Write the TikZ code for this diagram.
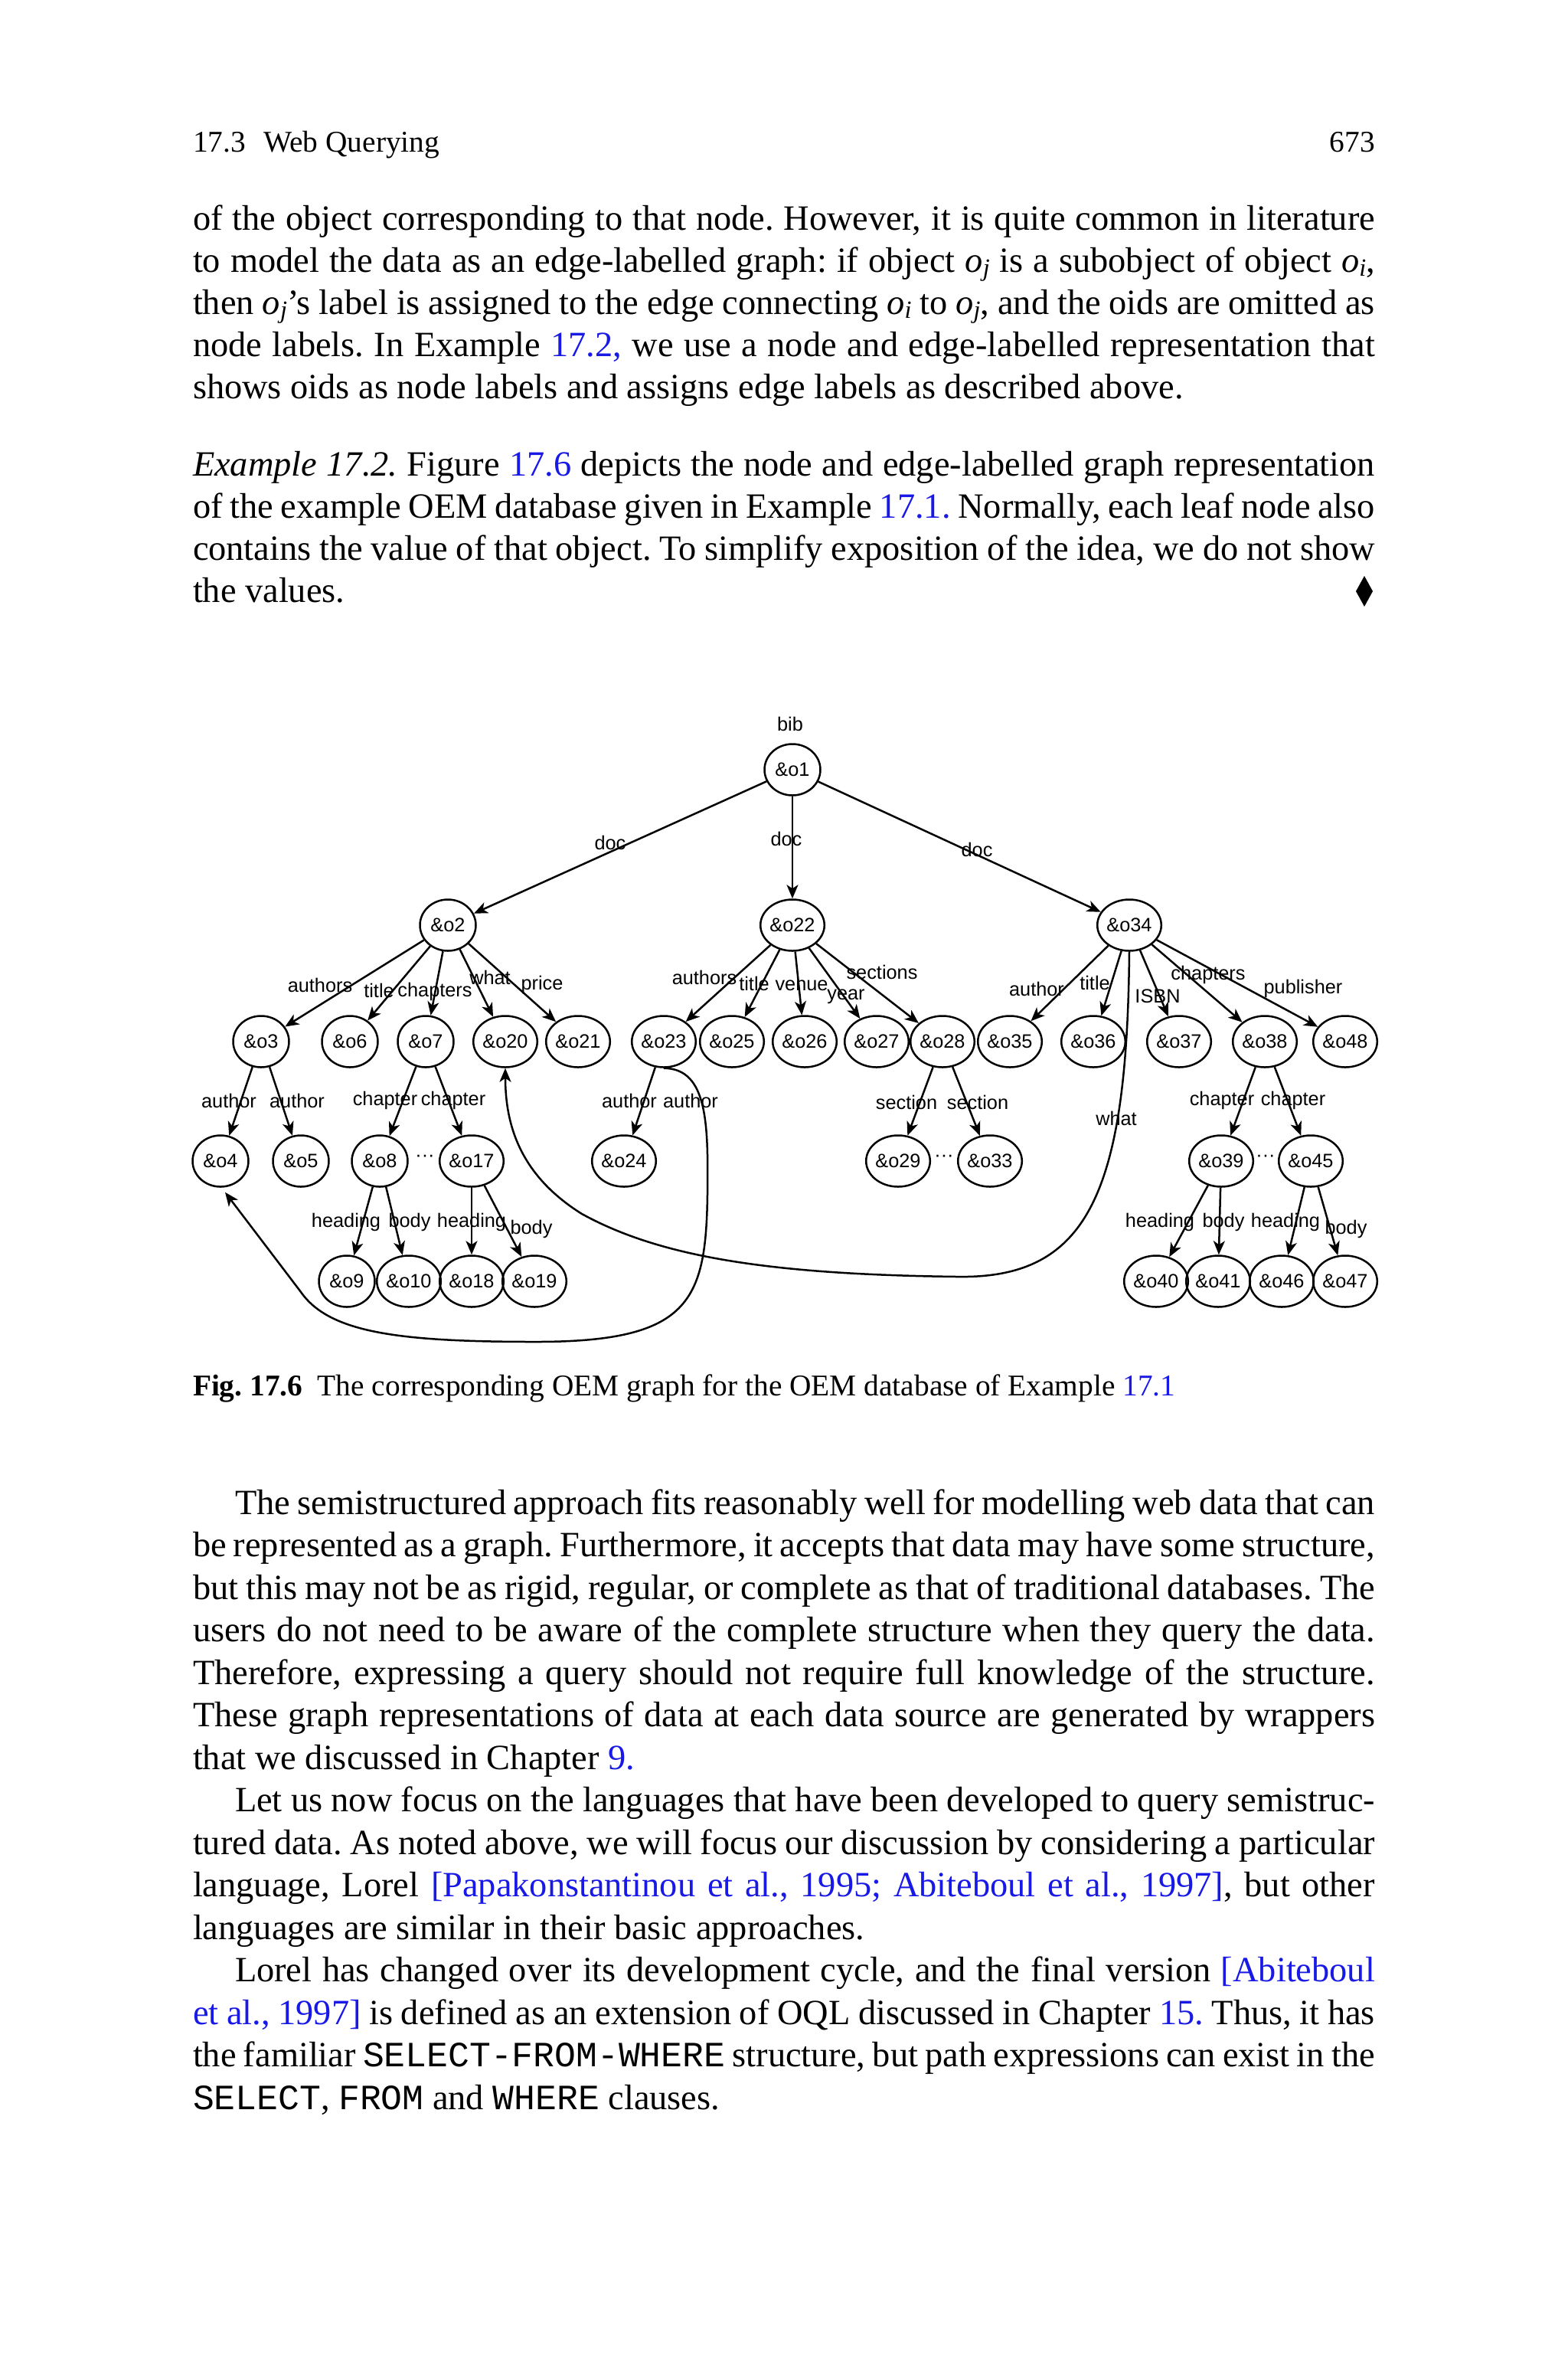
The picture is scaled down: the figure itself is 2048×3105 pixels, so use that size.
\documentclass[tikz,border=0pt]{standalone}
\usepackage{fontspec}
\setmainfont{Liberation Serif}
\setmonofont{Liberation Mono}
\newfontfamily\diagfont{Liberation Sans}
\usetikzlibrary{shapes.geometric,arrows.meta}
\definecolor{linkblue}{RGB}{25,25,230}
\newcommand\lnk[1]{\textcolor{linkblue}{#1}}
\newcommand\mysb[1]{\raisebox{-0.28ex}{\fontsize{9.2}{10}\selectfont\textit{#1}}}
\newcommand\myoj{\textit{o}\mysb{j}}
\newcommand\myoi{\textit{o}\mysb{i}}
\newcommand\myFJ[1]{\makebox[154.4mm][s]{#1}}
\newcommand\myIJ[1]{\makebox[148.9mm][s]{#1}}
\frenchspacing
\begin{document}
\begin{tikzpicture}[x=0.1mm,y=-0.1mm,
  body/.style={anchor=base west,inner sep=0,outer sep=0,font=\fontsize{13.2}{15.8}\selectfont},
  small/.style={anchor=base west,inner sep=0,outer sep=0,font=\fontsize{11.2}{13}\selectfont},
  obj/.style={draw,ellipse,line width=0.25mm,minimum width=7.3mm,minimum height=6.7mm,inner sep=0,font=\diagfont\fontsize{7.2}{8.6}\selectfont},
  lbl/.style={inner sep=0,font=\diagfont\fontsize{7.2}{8.6}\selectfont},
  edge/.style={line width=0.25mm,-{Stealth[length=1.8mm,width=1.5mm,inset=0.5mm]}}]
\useasboundingbox (0,0) rectangle (2048,3105);
\fill[white] (0,0) rectangle (2048,3105);

% ---------- header ----------
\node[small] (hd) at (252,198) {17.3\hspace{0.6em}Web Querying};
\node[small,anchor=base east] (pg) at (1796,198) {673};

% ---------- paragraph 1 ----------
\node[body] (a1) at (252,300) {\myFJ{of the object corresponding to that node. However, it is quite common in literature}};
\node[body] (a2) at (252,355) {\myFJ{to model the data as an edge-labelled graph: if object \myoj{} is a subobject of object \myoi,}};
\node[body] (a3) at (252,410) {\myFJ{then \myoj’s label is assigned to the edge connecting \myoi{} to \myoj, and the oids are omitted as}};
\node[body] (a4) at (252,465) {\myFJ{node labels. In Example \lnk{17.2,} we use a node and edge-labelled representation that}};
\node[body] (a5) at (252,520) {shows oids as node labels and assigns edge labels as described above.};

% ---------- example ----------
\node[body] (b1) at (252,621) {\myFJ{\textit{Example 17.2.} Figure \lnk{17.6} depicts the node and edge-labelled graph representation}};
\node[body] (b2) at (252,676) {\myFJ{of the example OEM database given in Example \lnk{17.1.} Normally, each leaf node also}};
\node[body] (b3) at (252,731) {\myFJ{contains the value of that object. To simplify exposition of the idea, we do not show}};
\node[body] (b4) at (252,786) {the values.};
\fill (1782,752) -- (1793,772) -- (1782,792) -- (1771,772) -- cycle;

% ---------- diagram ----------
\node[lbl] (bib) at (1032,945) {bib};
\node[obj] (o1) at (1035,1005) {\&o1};
\node[obj] (o2) at (585,1208) {\&o2};
\node[obj] (o22) at (1035,1208) {\&o22};
\node[obj] (o34) at (1475,1208) {\&o34};

\foreach \n/\x in {3/341,6/457,7/556,20/660,21/755,23/867,25/956,26/1051,27/1145,28/1231,35/1319,36/1428,37/1540,38/1652,48/1757}
  \node[obj] (o\n) at (\x,1360) {\&o\n};
\foreach \n/\x in {4/288,5/393,8/496,17/616,24/815,29/1173,33/1293,39/1595,45/1712}
  \node[obj] (o\n) at (\x,1516) {\&o\n};
\foreach \n/\x in {9/453,10/534,18/616,19/698,40/1510,41/1591,46/1674,47/1757}
  \node[obj] (o\n) at (\x,1673) {\&o\n};

\node[lbl] (d1) at (555,1512) {···};
\node[lbl] (d2) at (1233,1512) {···};
\node[lbl] (d3) at (1653,1512) {···};

% edges
\draw[edge] (o1) -- (o2);
\draw[edge] (o1) -- (o22);
\draw[edge] (o1) -- (o34);
\foreach \c in {3,6,7,20,21} \draw[edge] (o2) -- (o\c);
\foreach \c in {23,25,26,27,28} \draw[edge] (o22) -- (o\c);
\foreach \c in {35,36,37,38,48} \draw[edge] (o34) -- (o\c);
\foreach \c in {4,5} \draw[edge] (o3) -- (o\c);
\foreach \c in {8,17} \draw[edge] (o7) -- (o\c);
\draw[edge] (o23) -- (o24);
\foreach \c in {29,33} \draw[edge] (o28) -- (o\c);
\foreach \c in {39,45} \draw[edge] (o38) -- (o\c);
\foreach \c in {9,10} \draw[edge] (o8) -- (o\c);
\foreach \c in {18,19} \draw[edge] (o17) -- (o\c);
\foreach \c in {40,41} \draw[edge] (o39) -- (o\c);
\foreach \c in {46,47} \draw[edge] (o45) -- (o\c);

% curved edges
\draw[edge] (o34.south) .. controls (1472,1560) and (1420,1670) .. (1250,1667)
  .. controls (1000,1664) and (860,1640) .. (760,1585)
  .. controls (680,1535) and (660,1470) .. (o20.south);
\draw[edge] (o23.south) .. controls (925,1395) and (925,1470) .. (924,1560)
  .. controls (922,1700) and (900,1752) .. (700,1752)
  .. controls (520,1752) and (430,1740) .. (393,1687)
  -- ([xshift=0.6mm,yshift=-0.6mm]o4.south);

% edge labels
\node[lbl] (l1) at (797,1100) {doc};
\node[lbl] (l2) at (1027,1095) {doc};
\node[lbl] (l3) at (1276,1109) {doc};
\node[lbl] (l4) at (418,1286) {authors};
\node[lbl] (l5) at (495,1293) {title};
\node[lbl] (l6) at (568,1295) {chapters};
\node[lbl] (l7) at (640,1276) {what};
\node[lbl] (l8) at (708,1286) {price};
\node[lbl] (l9) at (920,1276) {authors};
\node[lbl] (l10) at (985,1284) {title};
\node[lbl] (l11) at (1047,1287) {venue};
\node[lbl] (l12) at (1105,1301) {year};
\node[lbl] (l13) at (1152,1269) {sections};
\node[lbl] (l14) at (1354,1291) {author};
\node[lbl] (l15) at (1430,1283) {title};
\node[lbl] (l16) at (1512,1301) {ISBN};
\node[lbl] (l17) at (1578,1273) {chapters};
\node[lbl] (l18) at (1702,1291) {publisher};
\node[lbl] (l19) at (299,1437) {author};
\node[lbl] (l20) at (388,1437) {author};
\node[lbl] (l21) at (503,1437) {chapter};
\node[lbl] (l22) at (592,1437) {chapter};
\node[lbl] (l23) at (822,1437) {author};
\node[lbl] (l24) at (902,1437) {author};
\node[lbl] (l25) at (1184,1439) {section};
\node[lbl] (l26) at (1277,1439) {section};
\node[lbl] (l27) at (1596,1437) {chapter};
\node[lbl] (l28) at (1689,1437) {chapter};
\node[lbl] (l29) at (1458,1460) {what};
\node[lbl] (l30) at (452,1596) {heading};
\node[lbl] (l31) at (535,1596) {body};
\node[lbl] (l32) at (616,1596) {heading};
\node[lbl] (l33) at (694,1605) {body};
\node[lbl] (l34) at (1515,1596) {heading};
\node[lbl] (l35) at (1598,1596) {body};
\node[lbl] (l36) at (1679,1596) {heading};
\node[lbl] (l37) at (1758,1605) {body};

% ---------- caption ----------
\node[small] (cap) at (252,1822) {\textbf{Fig. 17.6}\hspace{0.5em}The corresponding OEM graph for the OEM database of Example \lnk{17.1}};

% ---------- paragraph 2 ----------
\node[body] (c1) at (307,1977) {\myIJ{The semistructured approach fits reasonably well for modelling web data that can}};
\node[body] (c2) at (252,2032.5) {\myFJ{be represented as a graph. Furthermore, it accepts that data may have some structure,}};
\node[body] (c3) at (252,2088) {\myFJ{but this may not be as rigid, regular, or complete as that of traditional databases. The}};
\node[body] (c4) at (252,2143.5) {\myFJ{users do not need to be aware of the complete structure when they query the data.}};
\node[body] (c5) at (252,2199) {\myFJ{Therefore, expressing a query should not require full knowledge of the structure.}};
\node[body] (c6) at (252,2254.5) {\myFJ{These graph representations of data at each data source are generated by wrappers}};
\node[body] (c7) at (252,2310) {that we discussed in Chapter \lnk{9.}};

% ---------- paragraph 3 ----------
\node[body] (e1) at (307,2365.5) {\myIJ{Let us now focus on the languages that have been developed to query semistruc-}};
\node[body] (e2) at (252,2421) {\myFJ{tured data. As noted above, we will focus our discussion by considering a particular}};
\node[body] (e3) at (252,2476.5) {\myFJ{language, Lorel \lnk{[Papakonstantinou et al., 1995; Abiteboul et al., 1997]}, but other}};
\node[body] (e4) at (252,2532) {languages are similar in their basic approaches.};

% ---------- paragraph 4 ----------
\node[body] (f1) at (307,2587.5) {\myIJ{Lorel has changed over its development cycle, and the final version \lnk{[Abiteboul}}};
\node[body] (f2) at (252,2643) {\myFJ{\lnk{et al., 1997]} is defined as an extension of OQL discussed in Chapter \lnk{15.} Thus, it has}};
\node[body] (f3) at (252,2698.5) {\myFJ{the familiar \texttt{SELECT-FROM-WHERE} structure, but path expressions can exist in the}};
\node[body] (f4) at (252,2754) {\texttt{SELECT}, \texttt{FROM} and \texttt{WHERE} clauses.};
\end{tikzpicture}
\end{document}
